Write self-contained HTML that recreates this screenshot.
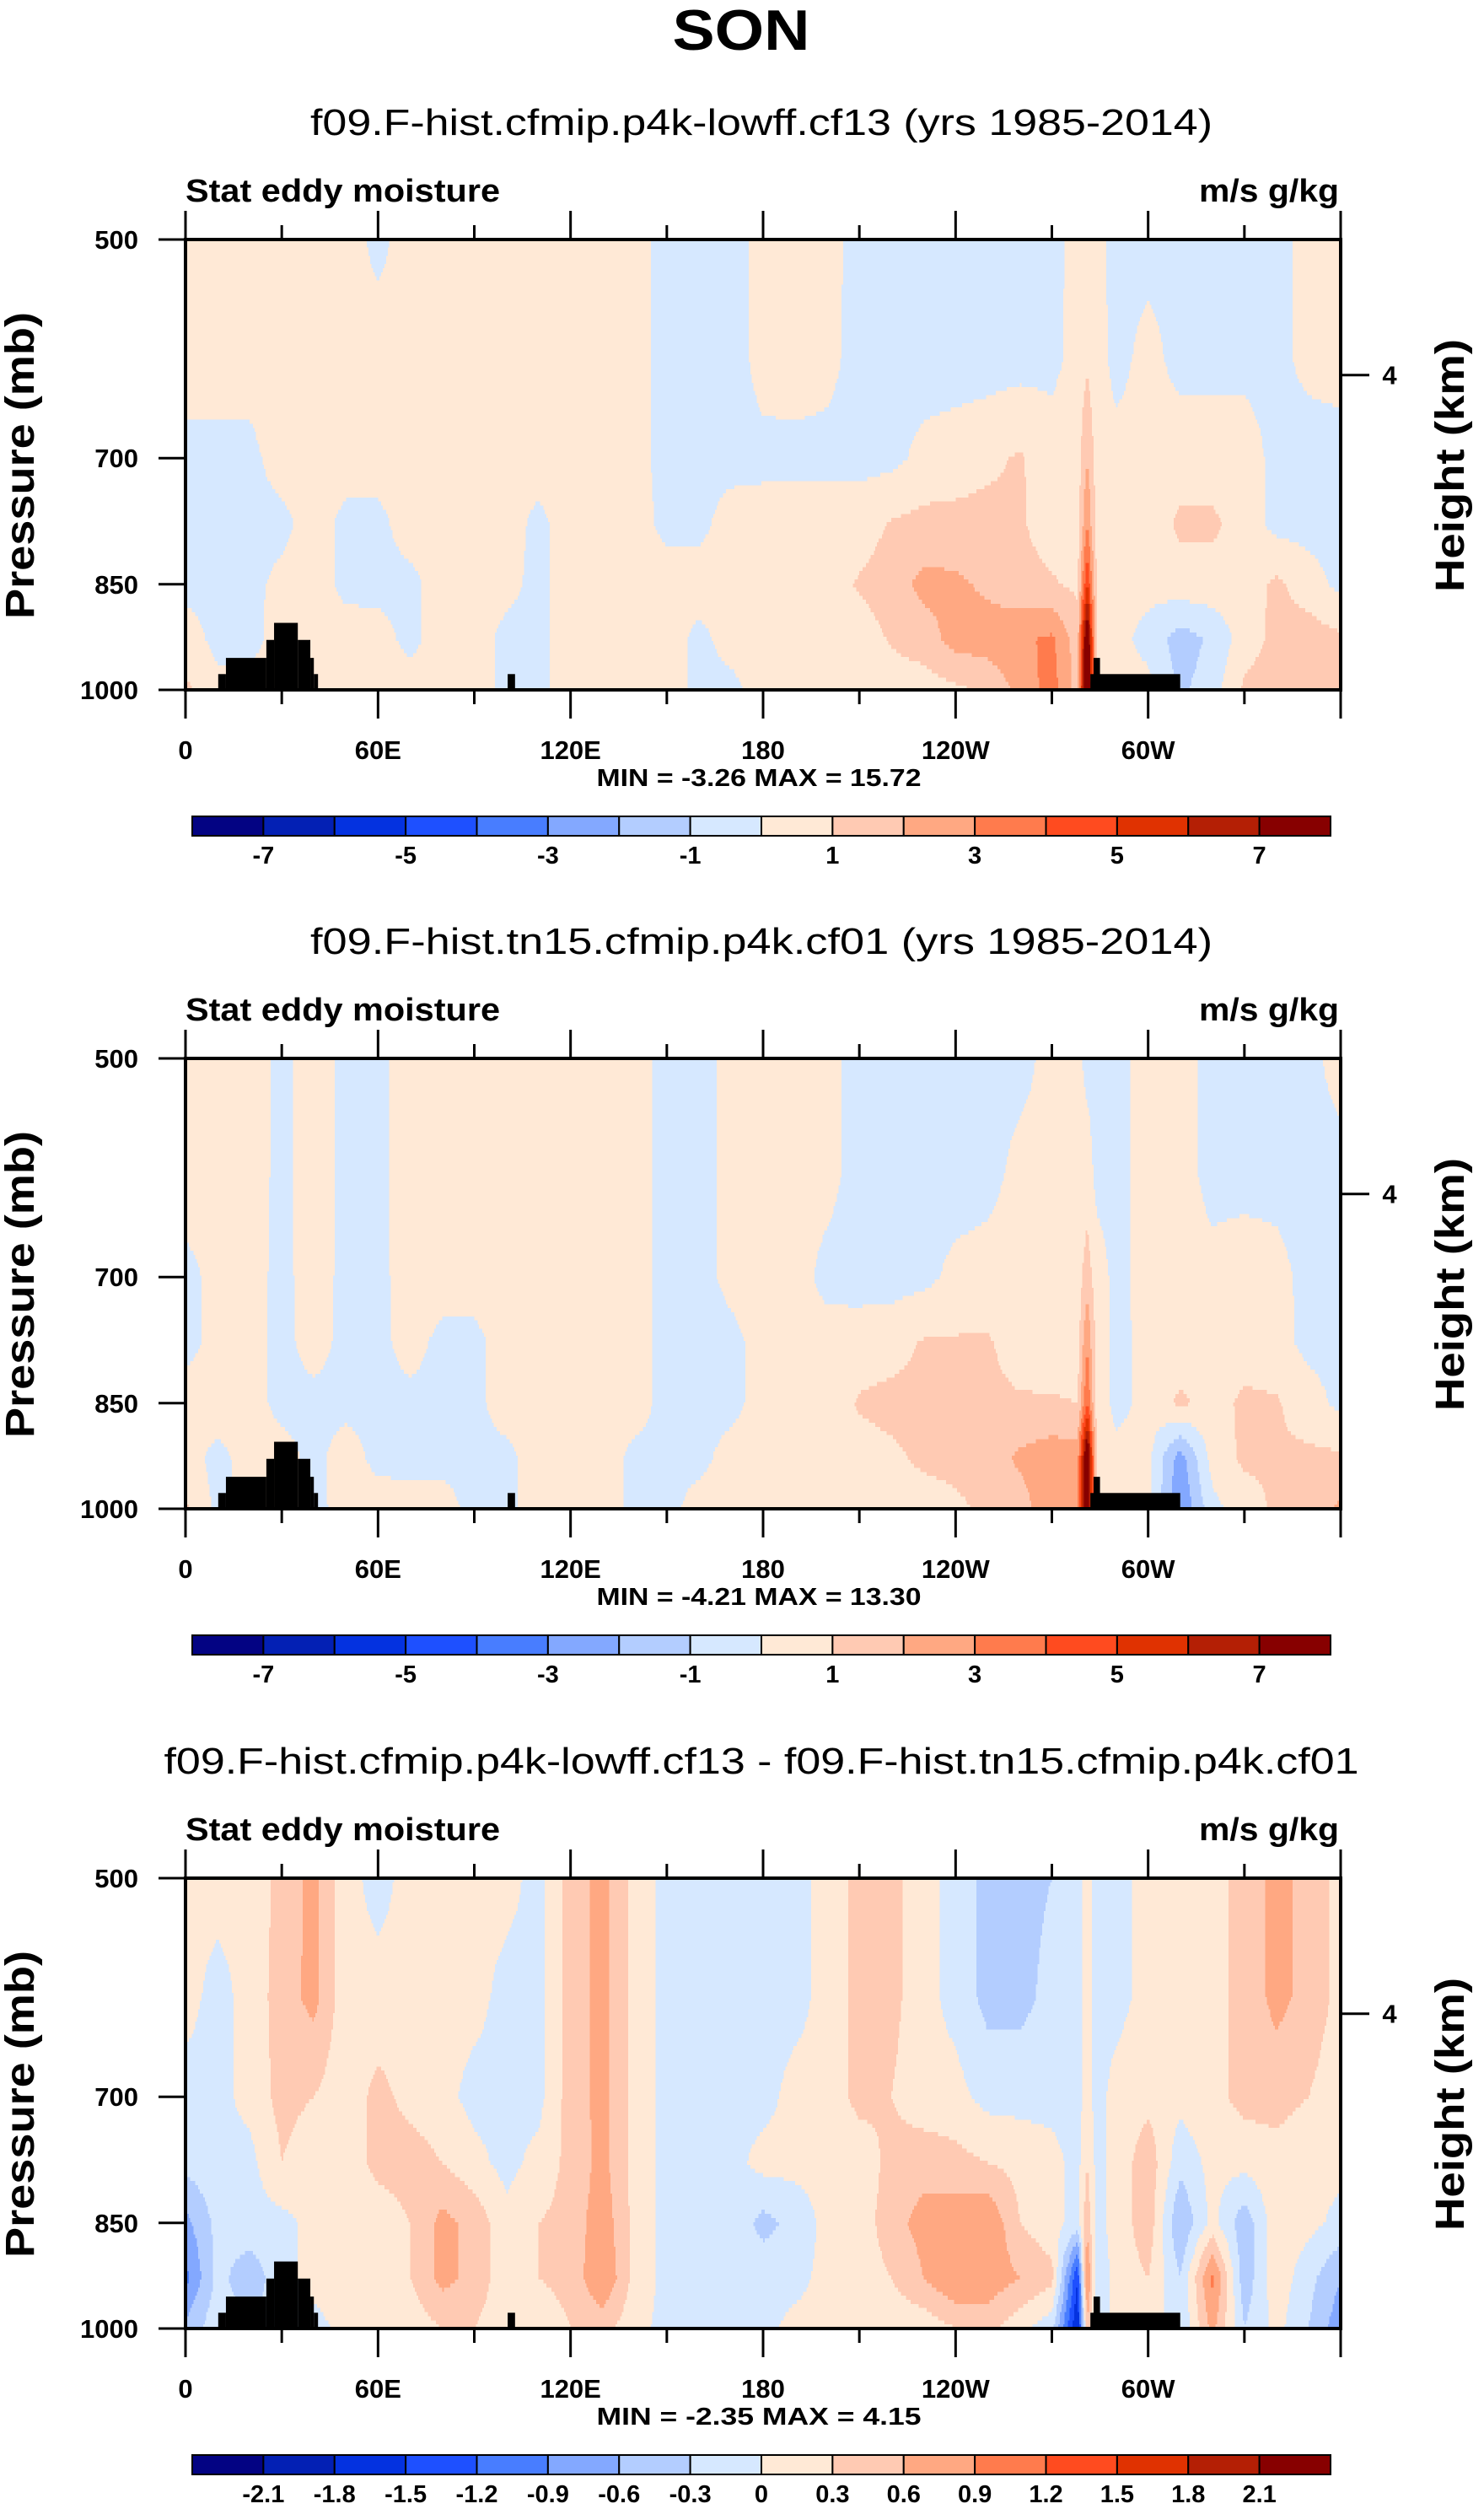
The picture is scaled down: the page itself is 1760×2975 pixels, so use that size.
<!DOCTYPE html>
<html><head><meta charset="utf-8"><style>
html,body{margin:0;padding:0;background:#fff}
svg{display:block}
text{font-family:"Liberation Sans",Arial,sans-serif;fill:#000}
</style></head><body>
<svg id="chart" xmlns="http://www.w3.org/2000/svg" width="1760" height="2975" viewBox="0 0 1760 2975">
<rect width="1760" height="2975" fill="#fff"/>
<text x="879" y="59" text-anchor="middle" font-size="68" font-weight="bold" textLength="163" lengthAdjust="spacingAndGlyphs">SON</text>
</svg>
<script>
// ---- data ----
const lonNodes = [0,10,20,30,40,50,60,70,80,90,100,110,120,130,140,150,160,170,180,190,200,210,220,230,240,250,260,270,278,281,284,290,300,310,320,330,340,350,360];
const presNodes = [500,600,700,775,850,925,1000];
const field1 = [
[.5,.5,.5,.5,.5,.5,-.3,.5,.5,.5,.5,.5,.8,.5,.5,-.5,-.5,-.5,.4,.5,.4,-.4,-.5,-.5,-.5,-.5,-.5,-.3,.3,.3,.3,-.3,-.3,-.3,-.3,-.3,-.3,.3,.5],
[.5,.5,.5,.5,.5,.5,.5,.5,.5,.5,.5,.5,.8,.5,.5,-.5,-.5,-.5,.4,.5,.3,-.4,-.5,-.5,-.5,-.5,-.4,-.3,.4,.8,.4,-.3,.3,-.3,-.3,-.3,-.3,.3,.5],
[-.3,-.3,-.3,.5,.5,.5,.5,.5,.5,.5,.5,.5,.8,.5,.5,-.5,-.4,-.4,-.3,-.3,-.3,-.3,-.3,.3,.5,.8,1.1,.5,.5,2,.5,.3,.3,.5,.5,.5,-.3,-.5,-.5],
[-.3,-.3,-.4,-.3,.5,-.3,-.3,.5,.5,.5,.5,-.3,.6,.5,.5,-.3,-.3,.5,.5,.5,.5,.5,1.1,1.3,1.3,1.3,1.1,.6,.6,3,.6,.3,.3,1.2,1.2,.5,-.3,-.4,-.5],
[-.3,-.3,-.3,.3,.5,-.3,-.3,-.3,.5,.5,.3,-.3,.5,.5,.5,.5,.5,.5,.5,.5,.6,1.1,1.5,2.3,2.2,1.8,1.3,1.1,.8,5,.8,.3,.3,.6,.6,.5,1.2,.5,-.3],
[.5,-.3,-.3,.4,.5,.5,.4,-.3,.5,.5,-.3,-.3,.5,.5,.5,.5,-.3,.4,.5,.5,.5,.5,1.1,1.5,2.4,2.5,2.8,3.2,1.5,9,.6,.3,-.3,-1.5,-.8,.5,1.3,1.5,1.2],
[1.2,.3,.3,.4,.5,.5,.5,.5,.5,.5,-.3,-.3,.5,.5,.5,.5,-.3,-.3,.5,.5,.5,.5,.5,.5,.8,1.2,2.3,3.5,1.5,10,.6,.3,.3,-1.2,-.5,1.2,1.5,1.5,1.2]];
const field2 = [
[.5,.5,.5,-.3,.5,-.3,-.3,.5,.5,.5,.5,.5,.5,.5,.5,-.4,-.4,.3,.4,.4,.3,-.4,-.5,-.5,-.5,-.4,-.3,.3,.3,-.3,-.3,-.3,.4,.4,-.3,-.3,-.3,-.3,.4],
[.5,.5,.5,-.3,.5,-.3,-.3,.5,.5,.5,.5,.5,.5,.5,.5,-.4,-.4,.3,.4,.4,.3,-.4,-.5,-.6,-.5,-.3,.3,.3,.3,.5,-.3,-.3,.4,.4,-.3,-.3,-.3,-.3,-.4],
[-.3,.3,.4,-.3,.5,-.3,-.3,.5,.5,.5,.5,.5,.5,.5,.5,-.4,-.4,.3,.4,.4,-.3,-.4,-.4,-.3,.3,.4,.5,.5,.5,1.5,.5,-.3,.4,.4,.3,.5,.3,-.3,-.4],
[-.3,.3,.4,-.3,.4,-.3,-.3,.4,-.3,-.3,.5,.5,.5,.5,.5,-.4,-.4,-.3,.4,.4,.4,.5,.6,1.1,1.1,1.1,.6,.5,.5,3,.5,-.3,.3,.4,.4,.5,.4,-.3,-.4],
[.4,.5,.4,-.3,-.3,-.3,-.3,-.3,-.3,-.3,.5,.5,.5,.5,.5,-.4,-.4,-.3,.4,.4,.5,1.1,1.3,1.3,1.3,1.2,1.1,1.1,1,4,.6,-.3,.3,1.2,.6,1.2,1.1,.5,-.3],
[.4,-.3,.4,.4,-.3,.5,-.3,-.3,-.3,-.3,-.3,.5,.5,.5,-.3,-.3,-.3,.4,.5,.5,.5,.6,.8,1.2,1.3,1.5,2.2,2.6,2.5,9,.6,.3,.3,-2.5,.4,1.2,1.1,1.2,1.2],
[1.2,-.3,.4,.4,-.3,.4,.5,.4,.4,-.3,-.3,.5,.5,.5,-.3,-.3,.4,.5,.5,.5,.5,.5,.5,.5,.8,1.2,1.5,2.8,2.5,9,.6,.3,.3,-3,-.3,.5,1.2,1.3,2.2]];
const field3 = [
[.1,.1,.1,.4,.7,.1,-.1,.1,.1,.1,.1,-.1,.45,.7,.2,-.1,-.1,-.1,-.1,-.1,.1,.4,.4,.1,-.1,-.4,-.4,-.3,-.1,.1,-.1,-.1,.1,.1,.2,.4,.7,.5,.2],
[.1,-.1,.1,.45,.7,.1,.1,.1,.1,.1,-.1,-.1,.45,.7,.2,-.1,-.1,-.1,-.1,-.1,.1,.4,.4,.1,-.1,-.4,-.4,-.2,-.1,.1,-.1,-.1,.1,.1,.2,.4,.7,.5,.2],
[-.1,-.1,.1,.4,.3,.1,.4,.2,.1,-.1,-.1,-.1,.45,.7,.2,-.1,-.1,-.1,-.1,.1,.1,.4,.3,.1,.1,-.1,-.1,-.1,-.1,.1,-.1,.1,.2,.1,.2,.4,.4,.3,.1],
[-.2,-.1,-.1,.3,.1,.1,.4,.45,.3,.1,-.1,.1,.4,.7,.2,-.1,-.1,-.1,.1,.1,.1,.1,.4,.5,.4,.3,.2,.1,-.1,.3,-.1,.1,.5,-.2,.1,.1,.2,.1,.1],
[-.7,-.2,-.1,-.1,.1,.1,.1,.3,.7,.5,.1,.3,.4,.8,.2,-.1,-.1,-.1,-.4,-.2,.1,.1,.5,.7,.8,.9,.3,.1,-.1,.5,-.1,.1,.5,-.6,.1,-.5,.2,.1,-.1],
[-1.0,-.2,-.5,-.1,.1,.1,.1,.3,.7,.5,.1,.3,.4,.9,.2,-.1,-.1,-.1,-.1,-.1,.1,.1,.3,.6,.9,.8,.6,.4,-1.5,1,-.2,.1,.3,-.3,1,-.5,.2,-.2,-.6],
[-.5,-.1,-.3,-.1,-.1,.1,.1,.1,.3,.3,.1,.1,.3,.4,.1,-.1,-.1,-.1,-.1,.1,.1,.1,.1,.1,.3,.4,.1,-.2,-1.8,.5,-.2,.1,.3,-.3,.7,-.3,.1,-.3,-.8]];
const topoLonStart = [10.2,12.6,25.2,27.6,35,38.9,40,100.4,282,283];
const topoLonEnd   = [12.6,25.2,27.6,35,38.9,40,41.3,102.7,310,285];
const topoTopP     = [976,952,926,902,926,952,976,976,976,952];
const pTicks = [500,700,850,1000];
const lonTicks = [0,60,120,180,240,300];
const lonTickLabels = ['0','60E','120E','180','120W','60W'];
const cbLabels12 = ['-7','-5','-3','-1','1','3','5','7'];
const cbLabels3 = ['-2.1','-1.8','-1.5','-1.2','-0.9','-0.6','-0.3','0','0.3','0.6','0.9','1.2','1.5','1.8','2.1'];
const subtitles = ['f09.F-hist.cfmip.p4k-lowff.cf13 (yrs 1985-2014)','f09.F-hist.tn15.cfmip.p4k.cf01 (yrs 1985-2014)','f09.F-hist.cfmip.p4k-lowff.cf13 - f09.F-hist.tn15.cfmip.p4k.cf01'];
const minmax = ['MIN =  -3.26  MAX =  15.72','MIN =  -4.21  MAX =  13.30','MIN =  -2.35  MAX =  4.15'];
const colors = ['#030383','#0320b4','#0432e0','#1e50ff','#487dff','#83a8ff','#b3cdff','#d6e8ff','#ffe9d6','#ffcab3','#ffa882','#ff7b4d','#ff4b1f','#e03201','#b41f05','#870000'];

const NS='http://www.w3.org/2000/svg';
const svg=document.getElementById('chart');
function mk(tag,attrs,parent){const e=document.createElementNS(NS,tag);for(const k in attrs)e.setAttribute(k,attrs[k]);(parent||svg).appendChild(e);return e;}

const X0=220,X1=1590,T0=284,B0=818;
function xLon(l){return X0+(l/360)*(X1-X0);}
function yP(p,off){return off+T0+(Math.log(p/500)/Math.log(2))*(B0-T0);}
function interp(field,lon,p){
  let i=0;while(i<lonNodes.length-2&&lon>lonNodes[i+1])i++;
  let j=0;while(j<presNodes.length-2&&p>presNodes[j+1])j++;
  const tx=(lon-lonNodes[i])/(lonNodes[i+1]-lonNodes[i]);
  const ty=(Math.log(p)-Math.log(presNodes[j]))/(Math.log(presNodes[j+1])-Math.log(presNodes[j]));
  const a=field[j][i]*(1-tx)+field[j][i+1]*tx, b=field[j+1][i]*(1-tx)+field[j+1][i+1]*tx;
  return a*(1-ty)+b*ty;
}
function levelIdx(v,vmin,step){let k=Math.floor((v-vmin)/step+1e-9);return Math.max(0,Math.min(15,k));}

const panels=[{f:field1,off:0,vmin:-8,step:1,labs:cbLabels12,labEvery:2,labStart:1},
              {f:field2,off:971,vmin:-8,step:1,labs:cbLabels12,labEvery:2,labStart:1},
              {f:field3,off:1943,vmin:-2.4,step:0.3,labs:cbLabels3,labEvery:1,labStart:1}];

panels.forEach((P,pi)=>{
  const off=P.off;
  const g=mk('g',{});
  
  
  const st=mk('text',{x:903,y:off+160,'text-anchor':'middle','font-size':44,textLength:(pi==2?1417:1070),lengthAdjust:'spacingAndGlyphs'},g);
  st.textContent=subtitles[pi];
  
  
  const l1=mk('text',{x:220,y:off+239,'font-size':38,'font-weight':'bold',textLength:373,lengthAdjust:'spacingAndGlyphs'},g);
  l1.textContent='Stat eddy moisture';
  
  
  const r1=mk('text',{x:1588,y:off+239,'text-anchor':'end','font-size':38,'font-weight':'bold',textLength:166,lengthAdjust:'spacingAndGlyphs'},g);
  r1.textContent='m/s g/kg';
  
  
  const fg=mk('g',{'shape-rendering':'crispEdges'},g);
  
  
  const NR=110, dl=0.5;
  const lnA=Math.log(500),lnB=Math.log(1000);
  for(let r=0;r<NR;r++){
    const pA=Math.exp(lnA+(lnB-lnA)*r/NR), pB=Math.exp(lnA+(lnB-lnA)*(r+1)/NR), pm=Math.sqrt(pA*pB);
    const ya=yP(pA,off), yb=yP(pB,off);
    let runStart=0, cur=-1;
    const n=Math.round(360/dl);
    for(let c=0;c<=n;c++){
      let k=-2;
      if(c<n){k=levelIdx(interp(P.f,(c+0.5)*dl,pm),P.vmin,P.step);}
      if(k!==cur){
        if(cur>=0){
          const xa=xLon(runStart*dl), xb=xLon(c*dl);
          const cell=mk('rect',{x:xa.toFixed(2),y:ya.toFixed(2),width:(xb-xa+0.6).toFixed(2),height:(yb-ya+0.6).toFixed(2),fill:colors[cur]},fg);
          
          
        }
        cur=k;runStart=c;
      }
    }
  }
  for(let t=0;t<topoLonStart.length;t++){
    const tr=mk('rect',{x:xLon(topoLonStart[t]),y:yP(topoTopP[t],off),width:xLon(topoLonEnd[t])-xLon(topoLonStart[t]),height:yP(1000,off)-yP(topoTopP[t],off),fill:'#000'},g);
    
    
  }
  const fr=mk('rect',{x:X0,y:off+T0,width:X1-X0,height:B0-T0,fill:'none',stroke:'#000','stroke-width':4},g);
  
  
  for(let l=0;l<=360;l+=30){
    const major=(l%60===0);const x=xLon(l);const len=major?34:17;
    mk('line',{x1:x,x2:x,y1:off+T0,y2:off+T0-len,stroke:'#000','stroke-width':3},g);
    mk('line',{x1:x,x2:x,y1:off+B0,y2:off+B0+len,stroke:'#000','stroke-width':3},g);
  }
  lonTicks.forEach((l,i)=>{
    const t=mk('text',{x:xLon(l),y:off+900,'text-anchor':'middle','font-size':31,'font-weight':'bold'},g);
    t.textContent=lonTickLabels[i];
    
    
  });
  pTicks.forEach(p=>{
    const y=yP(p,off);
    mk('line',{x1:X0-32,x2:X0,y1:y,y2:y,stroke:'#000','stroke-width':3},g);
    const t=mk('text',{x:164,y:y+11,'text-anchor':'end','font-size':31,'font-weight':'bold'},g);
    t.textContent=String(p);
    
    
  });
  const yh=yP(616,off);
  mk('line',{x1:X1,x2:X1+34,y1:yh,y2:yh,stroke:'#000','stroke-width':3},g);
  const ht=mk('text',{x:1648,y:yh+11,'text-anchor':'middle','font-size':31,'font-weight':'bold'},g);
  ht.textContent='4';
  
  
  const yt=mk('text',{x:0,y:0,transform:`translate(40,${off+552}) rotate(-90)`,'text-anchor':'middle','font-size':48,'font-weight':'bold',textLength:364,lengthAdjust:'spacingAndGlyphs'},g);
  yt.textContent='Pressure (mb)';
  
  
  const yt2=mk('text',{x:0,y:0,transform:`translate(1736,${off+552}) rotate(-90)`,'text-anchor':'middle','font-size':48,'font-weight':'bold',textLength:300,lengthAdjust:'spacingAndGlyphs'},g);
  yt2.textContent='Height (km)';
  
  
  const mm=mk('text',{x:900,y:off+932,'text-anchor':'middle','font-size':29,'font-weight':'bold',textLength:385,lengthAdjust:'spacingAndGlyphs'},g);
  mm.textContent=minmax[pi];
  
  
  const cb=mk('g',{},g);
  
  
  const cx0=228,cx1=1578,cw=(cx1-cx0)/16,cy=off+968,ch=23;
  for(let k=0;k<16;k++){
    const b=mk('rect',{x:cx0+k*cw,y:cy,width:cw,height:ch,fill:colors[k],stroke:'#000','stroke-width':2},cb);
    
    
  }
  P.labs.forEach((s,i)=>{
    const edge=P.labStart+i*P.labEvery;
    const t=mk('text',{x:cx0+edge*cw,y:off+1024,'text-anchor':'middle','font-size':29,'font-weight':'bold'},cb);
    t.textContent=s;
    
    
  });
});
</script>
</body></html>
